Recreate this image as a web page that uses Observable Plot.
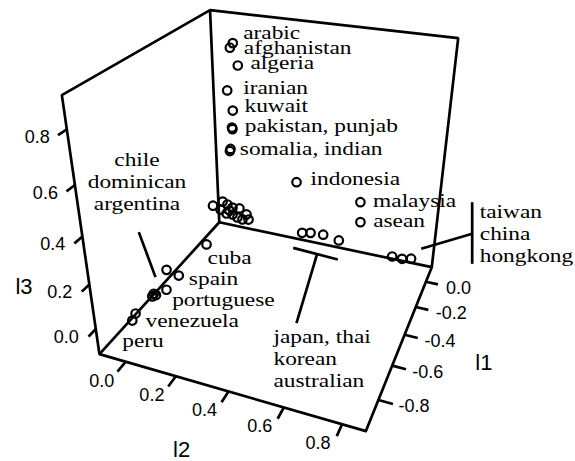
<!DOCTYPE html>
<html>
<head>
<meta charset="utf-8">
<script src="https://cdn.jsdelivr.net/npm/d3@7"></script>
<script src="https://cdn.jsdelivr.net/npm/@observablehq/plot@0.6"></script>
<style>
  html, body { margin: 0; padding: 0; background: #fff; }
  #chart svg { display: block; }
</style>
</head>
<body>
<div id="chart"></div>
<script>
// Loadings of each group on the three factors l1, l2, l3
const names = [
  "arabic", "afghanistan", "algeria", "iranian", "kuwait", "pakistan", "punjab", "somalia", "indian",
  "indonesia", "malaysia", "asean",
  "japan", "thai", "korean", "australian", "taiwan", "china", "hongkong",
  "cuba", "spain", "other01", "portuguese", "chile", "dominican", "argentina", "venezuela", "peru",
  "other02", "other03", "other04", "other05", "other06", "other07", "other08",
  "other09", "other10", "other11", "other12", "other13", "other14"
];
const l1 = [
  0.02, 0.02, 0.02, 0.02, 0.02, 0.02, 0.02, 0.02, 0.02,
  0.02, 0.02, 0.02,
  0.04, 0.04, 0.04, 0.04, 0.04, 0.04, 0.04,
  -0.249, -0.609, -0.515, -0.623, -0.721, -0.734, -0.706, -0.862, -0.889,
  -0.082, 0, 0, 0, 0, 0, 0,
  0, 0, 0, 0, 0, 0
];
const l2 = [
  0.032, 0.019, 0.051, 0.001, 0.023, 0.017, 0.019, 0.007, 0.004,
  0.304, 0.580, 0.585,
  0.326, 0.364, 0.421, 0.491, 0.724, 0.766, 0.803,
  0, 0, 0, 0, 0, 0, 0, 0, 0,
  -0.040, -0.031, -0.008, 0.016, 0.049, 0.082, -0.042,
  -0.014, 0.015, 0.038, 0.062, 0.091, 0.001
];
const l3 = [
  0.821, 0.800, 0.728, 0.611, 0.523, 0.443, 0.436, 0.339, 0.328,
  0.235, 0.196, 0.099,
  -0.028, -0.019, -0.015, -0.028, -0.053, -0.054, -0.044,
  -0.008, 0.077, -0.008, -0.010, 0.034, 0.030, 0.018, 0.035, 0.021,
  0.093, 0.075, 0.065, 0.054, 0.057, 0.033, 0.030,
  0.016, 0.017, 0.007, 0.002, 0.008, 0.035
];

// Axis ticks
const l1Ticks = [0, -0.2, -0.4, -0.6, -0.8];
const l2Ticks = [0, 0.2, 0.4, 0.6, 0.8];
const l3Ticks = [0, 0.2, 0.4, 0.6, 0.8];

// Axis limits of the box
const lim = {l1: [-0.963, 0.125], l2: [-0.109, 0.879], l3: [-0.119, 0.916]};

// Annotations: text attached to a group's point, offsets in pixels
const labels = [
  {text: "arabic", at: "arabic", dx: 10.4, dy: -4.4},
  {text: "afghanistan", at: "afghanistan", dx: 14, dy: 6.7},
  {text: "algeria", at: "algeria", dx: 12.7, dy: 3.3},
  {text: "iranian", at: "iranian", dx: 16, dy: 4},
  {text: "kuwait", at: "kuwait", dx: 11.7, dy: 1.7},
  {text: "pakistan, punjab", at: "pakistan", dx: 12.8, dy: 4.7},
  {text: "somalia, indian", at: "somalia", dx: 9.3, dy: 6.5},
  {text: "indonesia", at: "indonesia", dx: 14, dy: 3.3},
  {text: "malaysia", at: "malaysia", dx: 12.7, dy: 5},
  {text: "asean", at: "asean", dx: 12.7, dy: 5},
  {text: "cuba", at: "cuba", dx: 1, dy: 19.3},
  {text: "spain", at: "spain", dx: 22.3, dy: 14.7},
  {text: "portuguese", at: "portuguese", dx: 5.7, dy: 16.7},
  {text: "venezuela", at: "venezuela", dx: 10, dy: 13},
  {text: "peru", at: "peru", dx: -10, dy: 26.7},
  {text: "taiwan\nchina\nhongkong", at: "taiwan", dx: 87.6, dy: 5.7},
  {text: "japan, thai\nkorean\naustralian", at: "japan", dx: -28.7, dy: 154.4}
];
const centeredLabels = [
  {text: "chile\ndominican\nargentina", at: "chile", dx: -16.8, dy: -83.3}
];
const leaders = [
  {at: "chile", x1: -15, y1: -61.6, x2: 1.7, y2: -16.6},
  {at: "taiwan", x1: 80, y1: -54.3, x2: 80, y2: 7.3},
  {at: "taiwan", x1: 29, y1: -7.7, x2: 80, y2: -22.7},
  {at: "japan", x1: -9, y1: 15, x2: 35.6, y2: 26.7},
  {at: "japan", x1: 15, y1: 21, x2: -5.7, y2: 90.4}
];

// Perspective camera looking at the unit box
const deg = Math.PI / 180;
const view = {azimuth: 21.8, elevation: 29, distance: 0.357};
const cA = Math.cos(view.azimuth * deg), sA = Math.sin(view.azimuth * deg);
const cE = Math.cos(view.elevation * deg), sE = Math.sin(view.elevation * deg);
// a: l2 direction, b: l1 direction, c: l3 direction (all in [0, 1])
function project(a, b, c) {
  const qa = a - 0.5, qb = b - 0.5, qc = c - 0.5;
  const rx = cA * qa + sA * qb;
  const ry = -sA * sE * qa + cA * sE * qb + cE * qc;
  const rz = sA * cE * qa - cA * cE * qb + sE * qc;
  const w = 1 - view.distance * rz;
  return [rx / w, ry / w];
}
const unit = (v, [lo, hi]) => (v - lo) / (hi - lo);
const toView = (v1, v2, v3) => project(unit(v2, lim.l2), unit(v1, lim.l1), unit(v3, lim.l3));

// Frame of the page in view units
const W = 575, H = 461, zoom = 276, cx = 278.4, cy = 195.6;

const points = names.map((name, i) => {
  const [x, y] = toView(l1[i], l2[i], l3[i]);
  return {name, x, y};
});
const byName = new Map(points.map(p => [p.name, p]));

// Box: hexagonal outline plus the three edges meeting at the back corner
const outline = [[1,0,0],[0,0,0],[0,0,1],[0,1,1],[1,1,1],[1,1,0],[1,0,0]].map(c => project(...c));
const backEdges = [
  [[0,1,0],[0,0,0]], [[0,1,0],[0,1,1]], [[0,1,0],[1,1,0]]
].map(([p, q]) => ({p: project(...p), q: project(...q)}));

const tickLen = 0.05;
const l3TickData = l3Ticks.map(t => {
  const c = unit(t, lim.l3);
  return {t, p: project(0, 0, c), q: project(0, -0.045, c)};
});
const l2TickData = l2Ticks.map(t => {
  const a = unit(t, lim.l2);
  return {t, p: project(a, 0, 0), q: project(a, -0.055, 0)};
});
const l1TickData = l1Ticks.map(t => {
  const b = unit(t, lim.l1);
  return {t, p: project(1, b, 0), q: project(1 + tickLen, b, 0)};
});
const fmt = t => t.toFixed(1);

const titles = [
  {text: "l1", p: project(1.3, 0.47, 0)},
  {text: "l2", p: project(0.49, -0.29, 0)},
  {text: "l3", p: project(-0.29, 0, 0.22)}
];

const lx = d => byName.get(d.at).x + d.dx / zoom;
const ly = d => byName.get(d.at).y - d.dy / zoom;

const serif = "Liberation Serif, Times New Roman, serif";
const sans = "Liberation Sans, Arial, Helvetica, sans-serif";
const lw = 2.7;

const chart = Plot.plot({
  width: W,
  height: H,
  margin: 0,
  style: {background: "#fff"},
  x: {domain: [-cx / zoom, (W - cx) / zoom], axis: null},
  y: {domain: [-(H - cy) / zoom, cy / zoom], axis: null},
  marks: [
    Plot.line(outline, {x: d => d[0], y: d => d[1], stroke: "#000", strokeWidth: lw, strokeLinejoin: "miter"}),
    Plot.link(backEdges, {x1: d => d.p[0], y1: d => d.p[1], x2: d => d.q[0], y2: d => d.q[1], stroke: "#000", strokeWidth: lw}),
    // ticks
    Plot.link([...l3TickData, ...l2TickData, ...l1TickData], {
      x1: d => d.p[0], y1: d => d.p[1], x2: d => d.q[0], y2: d => d.q[1], stroke: "#000", strokeWidth: lw
    }),
    Plot.text(l3TickData, {x: d => d.p[0], y: d => d.p[1], text: d => fmt(d.t), textAnchor: "end", dx: -17, dy: 8, fontSize: 18, fontFamily: sans, fill: "#000"}),
    Plot.text(l2TickData, {x: d => d.p[0], y: d => d.p[1], text: d => fmt(d.t), textAnchor: "middle", dx: -24, dy: 19, fontSize: 18, fontFamily: sans, fill: "#000"}),
    Plot.text(l1TickData, {x: d => d.p[0], y: d => d.p[1], text: d => fmt(d.t), textAnchor: "start", dx: 20, dy: 6.5, fontSize: 18, fontFamily: sans, fill: "#000"}),
    Plot.text(titles, {x: d => d.p[0], y: d => d.p[1], text: "text", fontSize: 22, fontFamily: sans, fill: "#000"}),
    // groups
    Plot.dot(points, {x: "x", y: "y", r: 4.25, stroke: "#000", strokeWidth: 2.2, fill: "none"}),
    // annotations
    Plot.link(leaders, {
      x1: d => byName.get(d.at).x + d.x1 / zoom, y1: d => byName.get(d.at).y - d.y1 / zoom,
      x2: d => byName.get(d.at).x + d.x2 / zoom, y2: d => byName.get(d.at).y - d.y2 / zoom,
      stroke: "#000", strokeWidth: lw
    }),
    Plot.text(labels, {x: lx, y: ly, text: "text", textAnchor: "start", lineAnchor: "bottom", lineHeight: 1.16, fontSize: 19, fontFamily: serif, fill: "#000"}),
    Plot.text(centeredLabels, {x: lx, y: ly, text: "text", textAnchor: "middle", lineAnchor: "bottom", lineHeight: 1.16, fontSize: 19, fontFamily: serif, fill: "#000"})
  ]
});

// Serif labels are set wide
chart.querySelectorAll("g[font-family^='Liberation Serif'] text").forEach(t => {
  const tr = t.getAttribute("transform");
  if (tr) t.setAttribute("transform", tr + " scale(1.23,1)");
});

document.getElementById("chart").appendChild(chart);
</script>
</body>
</html>
